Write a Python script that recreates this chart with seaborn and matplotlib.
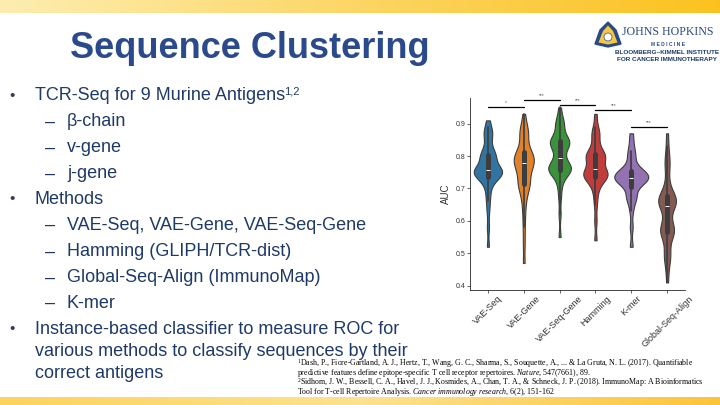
import matplotlib
matplotlib.use("Agg")
import matplotlib.pyplot as plt
import numpy as np
import pandas as pd
import seaborn as sns
from matplotlib.patches import Polygon, Ellipse

# AUC values per method
methods = ["VAE-Seq", "VAE-Gene", "VAE-Seq-Gene", "Hamming", "K-mer", "Global-Seq-Align"]
auc_vae_seq = [0.52, 0.58, 0.63, 0.66, 0.68, 0.70, 0.715, 0.725, 0.73, 0.735, 0.74, 0.742, 0.745,
               0.748, 0.75, 0.75, 0.752, 0.755, 0.755, 0.758, 0.76, 0.765, 0.77, 0.78, 0.79, 0.795,
               0.80, 0.80, 0.805, 0.81, 0.82, 0.83, 0.85, 0.865, 0.87, 0.875, 0.89, 0.91]
auc_vae_gene = [0.47, 0.53, 0.58, 0.62, 0.65, 0.67, 0.69, 0.70, 0.705, 0.71, 0.72, 0.725, 0.73,
                0.74, 0.75, 0.76, 0.765, 0.77, 0.775, 0.78, 0.78, 0.785, 0.79, 0.79, 0.795, 0.80,
                0.805, 0.81, 0.815, 0.82, 0.83, 0.85, 0.865, 0.87, 0.875, 0.885, 0.90, 0.93]
auc_vae_seq_gene = [0.55, 0.62, 0.67, 0.70, 0.72, 0.735, 0.745, 0.75, 0.752, 0.755, 0.758, 0.76,
                    0.762, 0.765, 0.768, 0.77, 0.775, 0.78, 0.79, 0.80, 0.81, 0.82, 0.83, 0.835,
                    0.838, 0.84, 0.842, 0.845, 0.848, 0.85, 0.855, 0.865, 0.88, 0.895, 0.90,
                    0.905, 0.92, 0.95]
auc_hamming = [0.54, 0.60, 0.65, 0.68, 0.70, 0.715, 0.725, 0.73, 0.735, 0.738, 0.74, 0.742, 0.745,
               0.748, 0.75, 0.755, 0.76, 0.77, 0.78, 0.79, 0.795, 0.80, 0.80, 0.802, 0.805, 0.81,
               0.82, 0.835, 0.855, 0.865, 0.875, 0.89, 0.93]
auc_kmer = [0.52, 0.58, 0.63, 0.66, 0.67, 0.675, 0.69, 0.705, 0.715, 0.72, 0.722, 0.725, 0.728,
            0.73, 0.732, 0.735, 0.74, 0.742, 0.745, 0.748, 0.75, 0.755, 0.76, 0.77, 0.79, 0.805,
            0.815, 0.84, 0.87]
auc_global = [0.41, 0.45, 0.475, 0.49, 0.495, 0.505, 0.53, 0.55, 0.56, 0.565, 0.568, 0.57, 0.572,
              0.575, 0.58, 0.585, 0.60, 0.62, 0.635, 0.645, 0.65, 0.655, 0.658, 0.66, 0.66,
              0.662, 0.665, 0.67, 0.675, 0.68, 0.69, 0.70, 0.72, 0.75, 0.775, 0.78, 0.80, 0.83,
              0.87]

# significance brackets
sig_pairs = [(0, 1, "*"), (1, 2, "***"), (2, 3, "***"), (3, 4, "***"), (4, 5, "***")]
sig_heights = [0.951, 0.973, 0.958, 0.941, 0.890]

title = "Sequence Clustering"
bullets = [
    ("•", "TCR-Seq for 9 Murine Antigens"),
    ("–", "β-chain"),
    ("–", "v-gene"),
    ("–", "j-gene"),
    ("•", "Methods"),
    ("–", "VAE-Seq, VAE-Gene, VAE-Seq-Gene"),
    ("–", "Hamming (GLIPH/TCR-dist)"),
    ("–", "Global-Seq-Align (ImmunoMap)"),
    ("–", "K-mer"),
    ("•", "Instance-based classifier to measure ROC for"),
    ("", "various methods to classify sequences by their"),
    ("", "correct antigens"),
]
bullet_y = [96, 122, 148, 174, 199, 225, 252, 278, 303, 329, 351, 373]
footnotes = [
    "$^1$Dash, P., Fiore-Gartland, A. J., Hertz, T., Wang, G. C., Sharma, S., Souquette, A., ... & La Gruta, N. L. (2017). Quantifiable",
    "predictive features define epitope-specific T cell receptor repertoires. $\\it{Nature}$, $\\it{547}$(7661), 89.",
    "$^2$Sidhom, J. W., Bessell, C. A., Havel, J. J., Kosmides, A., Chan, T. A., & Schneck, J. P. (2018). ImmunoMap: A Bioinformatics",
    "Tool for T-cell Repertoire Analysis. $\\it{Cancer\\ immunology\\ research}$, $\\it{6}$(2), 151-162",
]

df = pd.DataFrame({
    "Method": np.repeat(methods, [len(auc_vae_seq), len(auc_vae_gene), len(auc_vae_seq_gene),
                                  len(auc_hamming), len(auc_kmer), len(auc_global)]),
    "AUC": auc_vae_seq + auc_vae_gene + auc_vae_seq_gene + auc_hamming + auc_kmer + auc_global,
})

sns.set_style("ticks")
plt.rcParams["font.family"] = ["Liberation Sans", "DejaVu Sans"]
plt.rcParams["mathtext.fontset"] = "custom"
plt.rcParams["mathtext.rm"] = "Liberation Serif"
plt.rcParams["mathtext.it"] = "Liberation Serif:italic"

W, H = 720, 405
fig = plt.figure(figsize=(7.2, 4.05), dpi=100)

# background bars (gold gradient)
bg = fig.add_axes([0, 0, 1, 1], zorder=-1)
bg.set_xlim(0, W)
bg.set_ylim(H, 0)
bg.axis("off")
grad = np.linspace(0, 1, 256).reshape(1, -1)
top_cmap = matplotlib.colors.LinearSegmentedColormap.from_list("top", ["#fdeeb0", "#fcd664", "#fbc21f"])
bot_cmap = matplotlib.colors.LinearSegmentedColormap.from_list("bot", ["#fcd35e", "#fde28f", "#fbc53a"])
bg.imshow(grad, extent=[0, W, 13, 0], aspect="auto", cmap=top_cmap)
bg.imshow(grad, extent=[0, W, H, 397], aspect="auto", cmap=bot_cmap)

# logo
shield = Polygon([[595, 44], [600, 30], [608, 22], [616, 30], [621, 44], [608, 47]],
                 closed=True, fc="#2b4a85", ec="#2b4a85")
inner = Polygon([[598.5, 42.5], [603, 31], [608, 25.5], [613, 31], [617.5, 42.5], [608, 44.5]],
                closed=True, fc="#f5c842", ec="none")
bg.add_patch(shield)
bg.add_patch(inner)
bg.add_patch(Ellipse((608, 37), 8, 8, fc="white", ec="#2b4a85", lw=0.5))
bg.text(622, 32, "JOHNS HOPKINS", fontsize=8.6, family="Liberation Serif", color="#2b4a85", va="center")
bg.text(668, 44, "M E D I C I N E", fontsize=3.5, color="#2b4a85", va="center", ha="center", weight="bold")
bg.text(667, 52.5, "BLOOMBERG~KIMMEL INSTITUTE", fontsize=4.6, color="#1f3a68", va="center", ha="center", weight="bold")
bg.text(667, 59.5, "FOR CANCER IMMUNOTHERAPY", fontsize=4.6, color="#1f3a68", va="center", ha="center", weight="bold")

# title and bullets
bg.text(250, 48, title, fontsize=26, weight="bold", color="#2b4a8c", ha="center", va="center")
for (mark, txt), y in zip(bullets, bullet_y):
    if mark == "•":
        bg.text(9, y, mark, fontsize=11, color="#333f55", va="center")
        bg.text(35, y, txt, fontsize=13, color="#1f3a68", va="center")
    elif mark == "–":
        bg.text(45, y, mark, fontsize=13, color="#1f3a68", va="center")
        bg.text(67, y, txt, fontsize=13, color="#1f3a68", va="center")
    else:
        bg.text(35, y, txt, fontsize=13, color="#1f3a68", va="center")
bg.text(284, 92, "1,2", fontsize=8, color="#1f3a68", va="center")

for i, line in enumerate(footnotes):
    bg.text(297, 363.5 + i * 9.4, line, fontsize=5.7, family="Liberation Serif", color="black", va="center")

# violin plot
ax = fig.add_axes([470 / W, 1 - 290 / H, 215 / W, 192 / H])
sns.violinplot(data=df, x="Method", y="AUC", hue="Method", order=methods, legend=False,
               cut=0, bw_adjust=0.5, width=0.95, linewidth=0.8, common_norm=True, ax=ax)
ax.set_xlim(-0.5, 5.5)
ax.set_ylim(0.3867, 0.979)
ax.set_yticks([0.4, 0.5, 0.6, 0.7, 0.8, 0.9])
ax.tick_params(axis="y", labelsize=5, length=2, width=0.5, pad=1.5, labelcolor="#333333")
ax.tick_params(axis="x", labelsize=6.5, length=2, width=0.5, pad=1, labelcolor="#333333")
plt.setp(ax.get_xticklabels(), rotation=45)
ax.set_xlabel("")
ax.set_ylabel("AUC", fontsize=7, labelpad=3, color="#333333")
sns.despine(ax=ax)
for sp in ax.spines.values():
    sp.set_linewidth(0.6)

for (a, b, lab), h in zip(sig_pairs, sig_heights):
    ax.plot([a, b], [h, h], color="black", lw=0.9, clip_on=False)
    ax.text((a + b) / 2, h + 0.006, lab, fontsize=3.5, color="#555555", ha="center", va="bottom")

fig.savefig("out.png", dpi=100)
